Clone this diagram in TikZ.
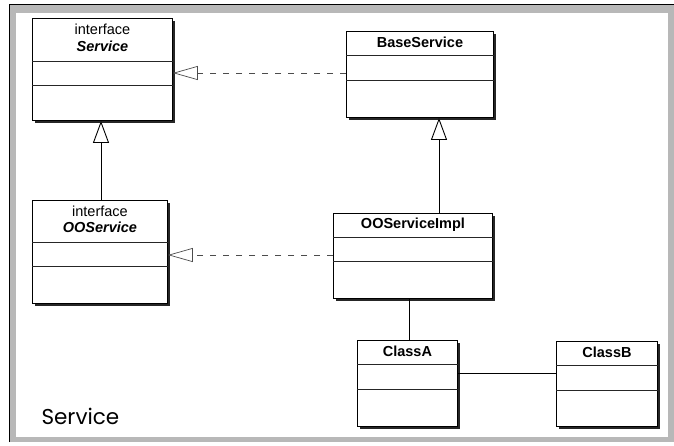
\documentclass[tikz,border=0pt]{standalone}
\usepackage{fontspec}
\setmainfont{Liberation Sans}
\newfontfamily\labelfont{Poppins}
\usetikzlibrary{arrows.meta}

\tikzset{
  classbox/.style={draw=black, fill=white, line width=0.9pt, inner sep=0pt, anchor=north west},
  classshadow/.style={fill=black!85},
  divider/.style={draw=black!85, line width=0.9pt},
  titletext/.style={font=\fontsize{14.5}{17}\selectfont\bfseries, anchor=base},
  stereotext/.style={font=\fontsize{14.5}{17}\selectfont, anchor=base},
  ifacetext/.style={font=\fontsize{14.5}{17}\selectfont\bfseries\itshape, anchor=base},
  realize/.style={draw=black!70, line width=0.7pt, dash pattern=on 6pt off 7pt,
    -{Triangle[open, length=25pt, width=14pt, fill=white]}},
  generalize/.style={draw=black, line width=0.9pt,
    -{Triangle[open, length=22pt, width=16pt, fill=white]}},
  assoc/.style={draw=black, line width=0.9pt},
}

% \umlclass{name}{left}{top}{right}{bottom}{divider 1}{divider 2}
\newcommand\umlclass[7]{%
  \fill[classshadow] (#2+3,#3+3) rectangle (#4+3,#5+3);
  \node[classbox, minimum width={(#4-#2)*1pt}, minimum height={(#5-#3)*1pt}] (#1) at (#2,#3) {};
  \draw[divider] (#1.west |- 0,#6) -- (#1.east |- 0,#6);
  \draw[divider] (#1.west |- 0,#7) -- (#1.east |- 0,#7);
}

\begin{document}
\begin{tikzpicture}[x=1pt, y=-1pt]
  \useasboundingbox (0,0) rectangle (674,445);
  % package frame
  \fill[white] (0,0) rectangle (674,445);
  \fill[black!28] (9,4) rectangle (674,442);
  \fill[white] (16,13) rectangle (668,437);
  \draw[black, line width=1.2pt] (9.5,442) -- (9.5,4.5) -- (674,4.5);

  % classes
  \umlclass{svc}{32}{18}{172}{120}{61}{85}
  \umlclass{bs}{346}{31}{493}{117}{55}{80}
  \umlclass{oos}{32}{200}{167}{303}{242}{266}
  \umlclass{impl}{333}{213}{492}{298}{237}{261}
  \umlclass{ca}{357}{340}{457}{426}{364}{389}
  \umlclass{cb}{556}{341}{657}{426}{365}{390}

  % compartment titles
  \node[stereotext] (svcst) at (svc.north |- 0,34) {interface};
  \node[ifacetext] (svcname) at (svc.north |- 0,51) {Service};
  \node[titletext] (bsname) at (bs.north |- 0,47) {BaseService};
  \node[stereotext] (oosst) at (oos.north |- 0,216) {interface};
  \node[ifacetext] (oosname) at (oos.north |- 0,232) {OOService};
  \node[titletext] (implname) at (impl.north |- 0,228) {OOServiceImpl};
  \node[titletext] (caname) at (ca.north |- 0,356) {ClassA};
  \node[titletext] (cbname) at (cb.north |- 0,357) {ClassB};

  % relations
  \coordinate (bsfoot) at (439,0);
  \draw[realize] (bs.west |- 0,73) -- (svc.east |- 0,73);
  \draw[realize] (impl.west |- 0,255) -- (oos.east |- 0,255);
  \draw[generalize] (oos.north -| 101,0) -- (svc.south -| 101,0);
  \draw[generalize] (impl.north -| bsfoot) -- (bs.south -| bsfoot);
  \draw[assoc] (ca.north -| 409,0) -- (impl.south -| 409,0);
  \draw[assoc] (ca.east |- 0,373) -- (cb.west |- 0,373);

  % package name
  \node[font=\labelfont\fontsize{21.5}{25}\selectfont, anchor=base west] (pkg) at (38,424) {Service};
\end{tikzpicture}
\end{document}
